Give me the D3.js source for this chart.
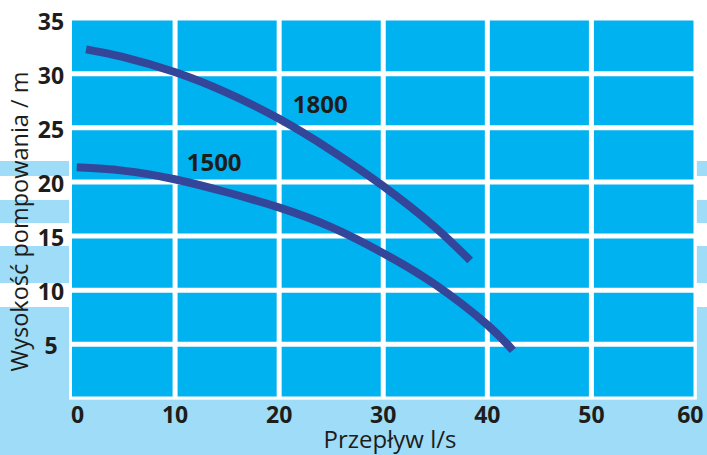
<!DOCTYPE html>
<html><head><meta charset="utf-8">
<script src="https://cdn.jsdelivr.net/npm/d3@7"></script>
<style>
html,body{margin:0;padding:0;background:#fff;}
svg{display:block;}
text{font-family:"Open Sans","Noto Sans",sans-serif;fill:#1d1d1b;}
</style></head>
<body>
<svg id="c" width="707" height="455"></svg>
<script>
// ---- data ----
const xTicks = [0, 10, 20, 30, 40, 50, 60];
const yTicks = [5, 10, 15, 20, 25, 30, 35];
const xTitle = "Przepływ l/s";
const yTitle = "Wysokość pompowania / m";
const seriesNames = ["1800", "1500"];
const flow1800 = [1.5, 5, 10, 15, 20, 25, 30, 35, 38.4];
const head1800 = [32.2, 31.5, 30.1, 28.2, 25.8, 22.9, 19.6, 15.8, 12.7];
const flow1500 = [0.6, 5, 10, 15, 20, 25, 30, 35, 40, 42.5];
const head1500 = [21.3, 21.0, 20.2, 19.0, 17.6, 15.8, 13.4, 10.5, 6.8, 4.4];
const labelAt = [[24.0, 26.3], [13.8, 21.0]]; // label anchor (flow, head)

// ---- layout ----
const W = 707, H = 455;
const x = d3.scaleLinear().domain([0, 60]).range([70.5, 695]);
const y = d3.scaleLinear().domain([0, 35]).range([398, 19]);
const pale = "#9fdcf7", cell = "#00b2ef", lineCol = "#33469a";

const svg = d3.select("#c");

// decorative pale background bands
const bands = [[161, 176], [200, 223], [246, 283], [307, H]];
bands.forEach(b => {
  svg.append("rect").attr("x", 0).attr("y", b[0]).attr("width", x(0) - 1.5).attr("height", b[1] - b[0]).attr("fill", pale);
  svg.append("rect").attr("x", x(60) + 1.7).attr("y", b[0]).attr("width", W - x(60) - 1.7).attr("height", b[1] - b[0]).attr("fill", pale);
});
svg.append("rect").attr("x", 0).attr("y", y(0) + 1.3).attr("width", W).attr("height", H - y(0)).attr("fill", pale);

// plot area
svg.append("rect").attr("x", x(0) - 1.5).attr("y", y(35) - 1.5)
  .attr("width", x(60) - x(0) + 3).attr("height", y(0) - y(35) + 3).attr("fill", "#fff");
svg.append("rect").attr("x", x(0) + 1.5).attr("y", y(35) + 1.5)
  .attr("width", x(60) - x(0) - 3).attr("height", y(0) - y(35) - 3).attr("fill", cell);

// grid via axes
const gx = svg.append("g").attr("transform", `translate(0,${y(0)})`)
  .call(d3.axisBottom(x).tickValues(xTicks.slice(1, -1)).tickSize(-(y(0) - y(35))).tickFormat(""));
gx.select(".domain").remove();
gx.selectAll("line").attr("stroke", "#fff").attr("stroke-width", 5);

const gy = svg.append("g").attr("transform", `translate(${x(0)},0)`)
  .call(d3.axisLeft(y).tickValues(yTicks.slice(0, -1)).tickSize(-(x(60) - x(0))).tickFormat(""));
gy.select(".domain").remove();
gy.selectAll("line").attr("stroke", "#fff").attr("stroke-width", 5);

// tick labels
const xl = svg.append("g").attr("transform", `translate(0,${y(0)})`)
  .call(d3.axisBottom(x).tickValues(xTicks).tickSize(0).tickPadding(0));
xl.select(".domain").remove();
xl.selectAll(".tick text").attr("y", 25).attr("dy", null)
  .style("font-size", "23px").style("font-weight", 700)
  .attr("text-anchor", d => d === xTicks[0] ? "start" : d === xTicks[xTicks.length - 1] ? "end" : "middle")
  .attr("x", d => d === xTicks[xTicks.length - 1] ? 8 : 0)
  .attr("font-family", null).attr("fill", "#1d1d1b");

const yl = svg.append("g").attr("transform", `translate(51,0)`)
  .call(d3.axisLeft(y).tickValues(yTicks).tickSize(0).tickPadding(0));
yl.select(".domain").remove();
yl.selectAll("text").attr("x", 0).attr("dy", null).attr("y", 10)
  .attr("text-anchor", "middle")
  .style("font-size", "23px").style("font-weight", 700)
  .attr("font-family", null).attr("fill", "#1d1d1b");

// curves
const line = d3.line().x(d => x(d[0])).y(d => y(d[1])).curve(d3.curveNatural);
const series = [d3.zip(flow1800, head1800), d3.zip(flow1500, head1500)];
series.forEach(s => {
  svg.append("path").attr("d", line(s)).attr("fill", "none")
    .attr("stroke", lineCol).attr("stroke-width", 8).attr("stroke-linecap", "butt");
});

// curve labels
seriesNames.forEach((n, i) => {
  svg.append("text").attr("x", x(labelAt[i][0])).attr("y", y(labelAt[i][1]))
    .attr("text-anchor", "middle").style("font-size", "24px").style("font-weight", 700).text(n);
});

// axis titles
svg.append("text").attr("x", 390).attr("y", 448).attr("text-anchor", "middle")
  .style("font-size", "24px").text(xTitle);
svg.append("text").attr("transform", "translate(28,221.5) rotate(-90)").attr("text-anchor", "middle")
  .style("font-size", "23.5px").text(yTitle);
</script>
</body></html>
